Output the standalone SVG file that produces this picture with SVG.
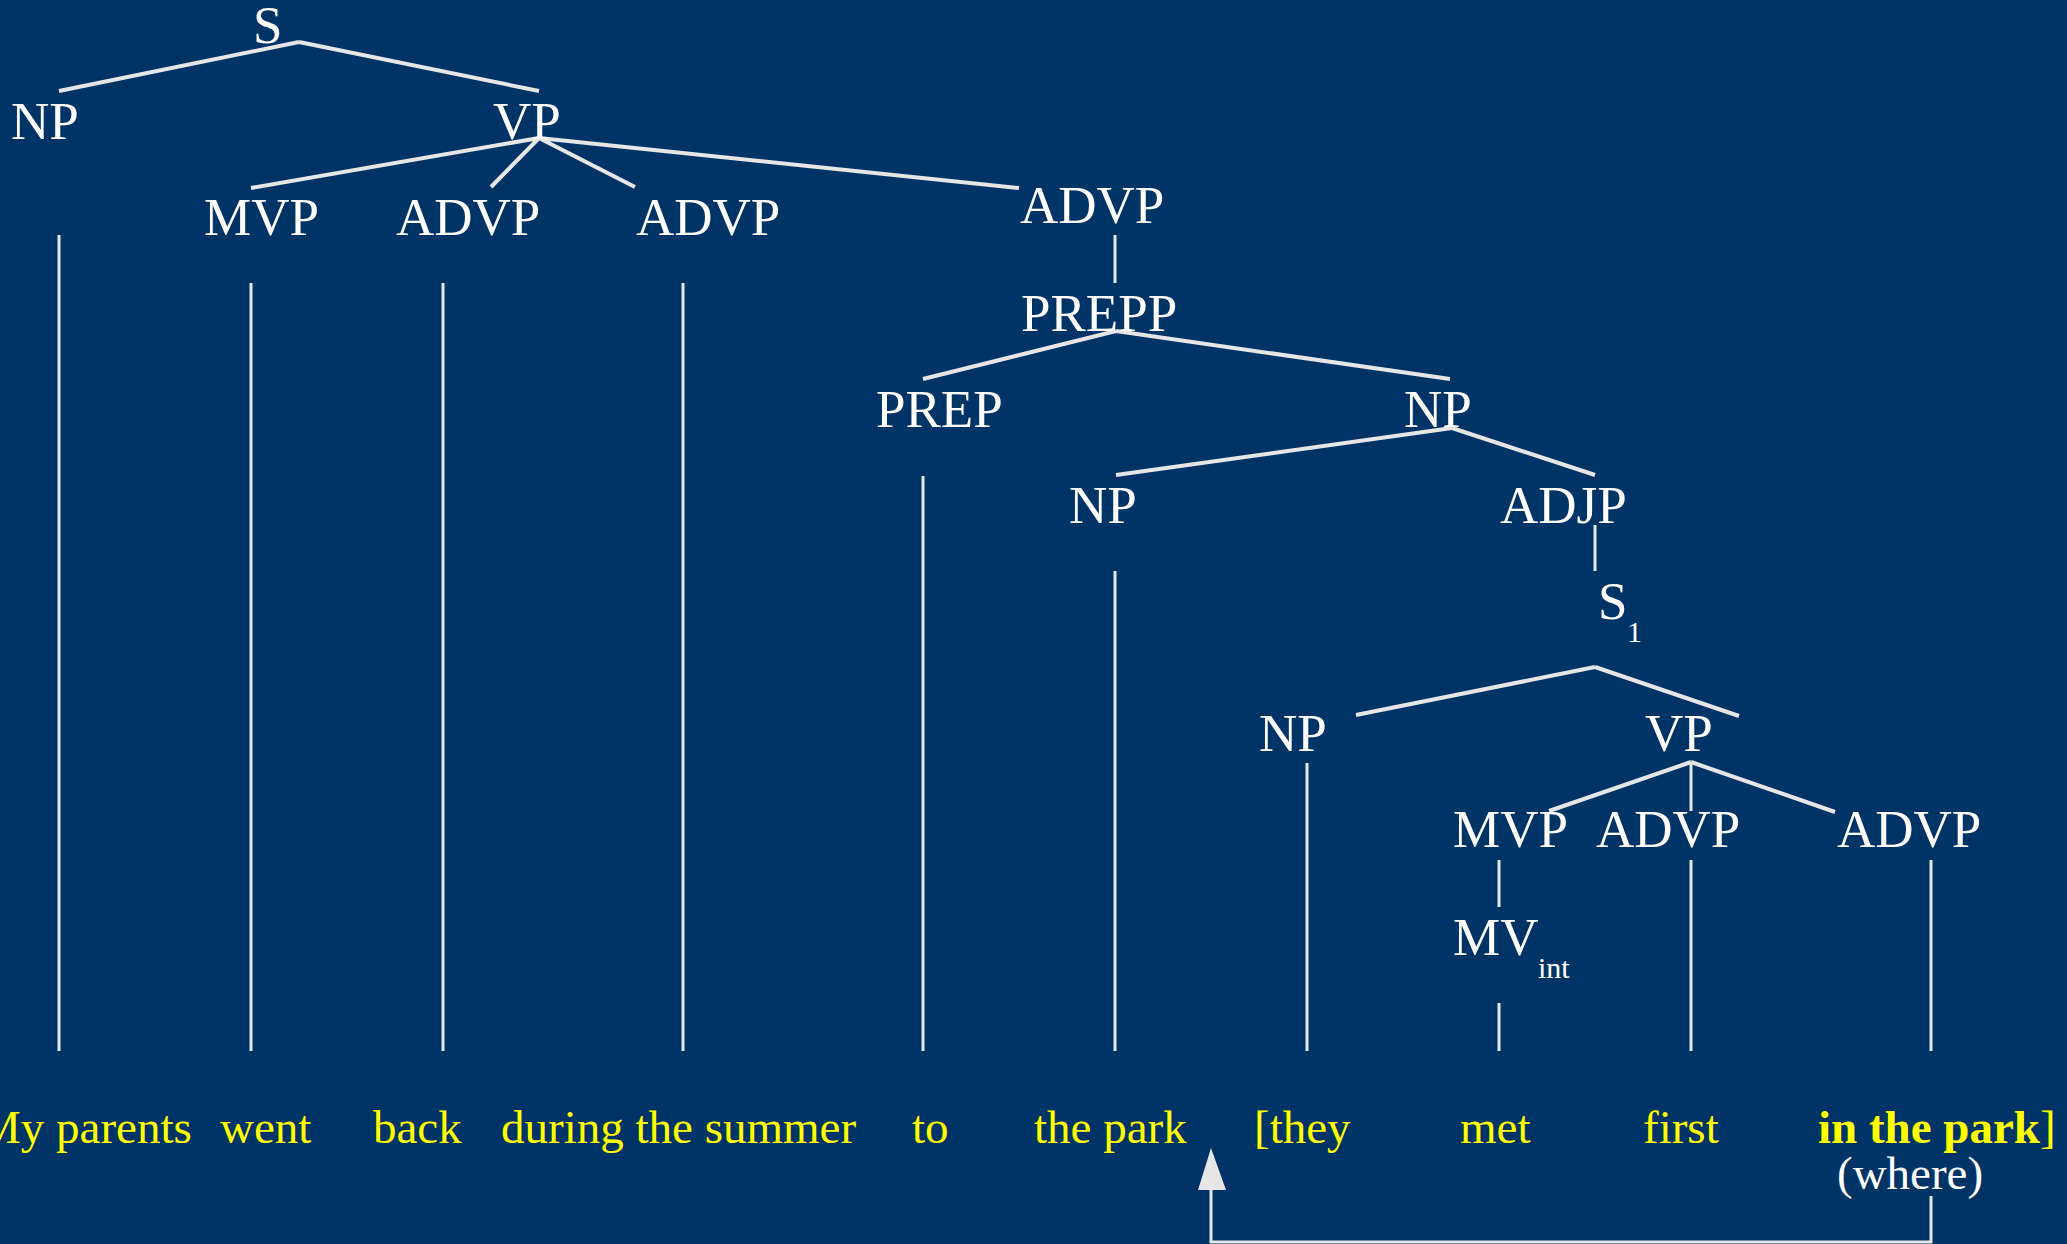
<svg xmlns="http://www.w3.org/2000/svg" width="2067" height="1244" viewBox="0 0 2067 1244">
<defs>
<style>
.lbl{font-family:"Liberation Serif","Times New Roman",serif;font-size:53px;fill:#ffffff}
.sub{font-family:"Liberation Serif","Times New Roman",serif;font-size:30px;fill:#ffffff}
.wd{font-family:"Liberation Serif","Times New Roman",serif;font-size:47px;fill:#ffff00}
.wh{font-family:"Liberation Serif","Times New Roman",serif;font-size:47px;fill:#ffffff}
.br{stroke:#e6e6e6;stroke-width:4;fill:none}
.vt{stroke:#e6e6e6;stroke-width:3;fill:none}
</style>
</defs>
<rect x="0" y="0" width="2067" height="1244" fill="#003366"/>
<g id="connectors">
<path class="br" d="M299,42 L59,91 M299,42 L539,91"/>
<path class="br" d="M539,138 L251,188 M539,138 L491,187 M539,138 L635,187 M539,138 L1019,188"/>
<path class="vt" d="M1115,235 L1115,283"/>
<path class="br" d="M1116,331 L923,379 M1116,331 L1450,379"/>
<path class="br" d="M1452,428 L1116,475 M1452,428 L1595,475"/>
<path class="vt" d="M1595,525 L1595,571"/>
<path class="br" d="M1595,667 L1356,715 M1595,667 L1739,716"/>
<path class="br" d="M1691,762 L1549,811 M1691,762 L1835,812"/>
<path class="vt" d="M1691,762 L1691,811"/>
<path class="vt" d="M1499,860 L1499,907 M1499,1003 L1499,1051"/>
<path class="vt" d="M59,235 L59,1051 M251,283 L251,1051 M443,283 L443,1051 M683,283 L683,1051 M923,476 L923,1051 M1115,571 L1115,1051 M1307,763 L1307,1051 M1691,860 L1691,1051 M1931,860 L1931,1051"/>
<path class="vt" d="M1931,1196 L1931,1242 L1211,1242 L1211,1188"/>
<polygon points="1198,1190 1226,1190 1211,1148" fill="#e6e6e6"/>
</g>
<g id="S"><text class="lbl" x="253" y="43">S</text></g>
<g id="NP1"><text class="lbl" x="11" y="139">NP</text></g>
<g id="VP1"><text class="lbl" x="493" y="139">VP</text></g>
<g id="MVP1"><text class="lbl" x="204" y="235">MVP</text></g>
<g id="ADVP1"><text class="lbl" x="396" y="235">ADVP</text></g>
<g id="ADVP2"><text class="lbl" x="636" y="235">ADVP</text></g>
<g id="ADVP3"><text class="lbl" x="1020" y="223">ADVP</text></g>
<g id="PREPP"><text class="lbl" x="1021" y="331">PREPP</text></g>
<g id="PREP"><text class="lbl" x="876" y="427">PREP</text></g>
<g id="NP2"><text class="lbl" x="1404" y="427">NP</text></g>
<g id="NP3"><text class="lbl" x="1069" y="523">NP</text></g>
<g id="ADJP"><text class="lbl" x="1500" y="523">ADJP</text></g>
<g id="S1"><text class="lbl" x="1598" y="619">S</text><text class="sub" x="1627" y="642">1</text></g>
<g id="NP4"><text class="lbl" x="1259" y="751">NP</text></g>
<g id="VP2"><text class="lbl" x="1645" y="751">VP</text></g>
<g id="MVP2"><text class="lbl" x="1453" y="847">MVP</text></g>
<g id="ADVP4"><text class="lbl" x="1596" y="847">ADVP</text></g>
<g id="ADVP5"><text class="lbl" x="1837" y="847">ADVP</text></g>
<g id="MVint"><text class="lbl" x="1453" y="955">MV</text><text class="sub" x="1538" y="978">int</text></g>
<g id="words">
<text class="wd" x="-21" y="1143">My parents</text>
<text class="wd" x="220" y="1143">went</text>
<text class="wd" x="373" y="1143">back</text>
<text class="wd" x="501" y="1143">during the summer</text>
<text class="wd" x="912" y="1143">to</text>
<text class="wd" x="1034" y="1143">the park</text>
<text class="wd" x="1254" y="1143">[they</text>
<text class="wd" x="1460" y="1143">met</text>
<text class="wd" x="1643" y="1143">first</text>
<text class="wd" x="1818" y="1143"><tspan font-weight="bold">in the park</tspan>]</text>
<text class="wh" x="1837" y="1189">(where)</text>
</g>
</svg>
